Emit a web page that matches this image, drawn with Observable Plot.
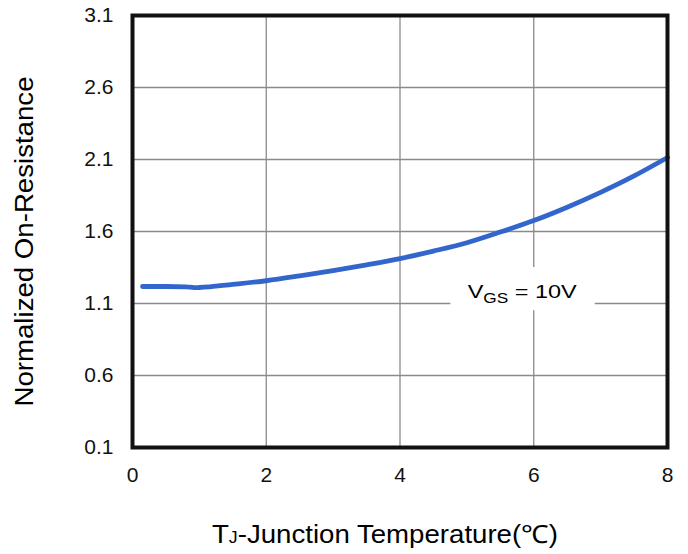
<!DOCTYPE html>
<html>
<head>
<meta charset="utf-8">
<script src="https://cdn.jsdelivr.net/npm/d3@7"></script>
<script src="https://cdn.jsdelivr.net/npm/@observablehq/plot@0.6"></script>
<style>
  html, body { margin: 0; padding: 0; background: #fff; }
  svg { display: block; }
</style>
</head>
<body>
<div id="chart"></div>
<script>
// Junction temperature (x) and normalized on-resistance (y)
const temperature = [0.15, 0.5, 0.8, 0.92, 1.0, 1.5, 2.0, 2.5, 3.0, 3.5, 4.0, 4.5, 5.0, 5.5, 6.0, 6.5, 7.0, 7.5, 8.0];
const resistance  = [1.218, 1.218, 1.216, 1.210, 1.211, 1.233, 1.258, 1.292, 1.329, 1.369, 1.412, 1.464, 1.522, 1.596, 1.676, 1.769, 1.872, 1.986, 2.114];

const xTicks = [0, 2, 4, 6, 8];
const yTicks = [0.1, 0.6, 1.1, 1.6, 2.1, 2.6, 3.1];
const xGrid = [2, 4, 6];
const yGrid = [0.6, 1.1, 1.6, 2.1, 2.6];

const xLabelMain = "T";
const xLabelSub = "J";
const xLabelRest = "-Junction Temperature(℃)";
const yLabel = "Normalized On-Resistance";
const noteMain = "V";
const noteSub = "GS";
const noteRest = " = 10V";
const notePos = {x: 5.02, y: 1.137};
const noteBox = [{x1: 4.76, x2: 6.92, y1: 1.05, y2: 1.35}];

const data = temperature.map((t, i) => ({t, r: resistance[i]}));
const font = "'Liberation Sans', Arial, sans-serif";

const chart = Plot.plot({
  width: 688,
  height: 554,
  marginLeft: 132,
  marginRight: 21,
  marginTop: 15,
  marginBottom: 107,
  style: {fontFamily: font, fontSize: "21px", color: "#000", background: "#fff", overflow: "visible"},
  x: {domain: [0, 8], axis: null},
  y: {domain: [0.1, 3.1], axis: null},
  marks: [
    Plot.ruleX(xGrid, {stroke: "#8a8a8a", strokeWidth: 1.3}),
    Plot.ruleY(yGrid, {stroke: "#8a8a8a", strokeWidth: 1.3}),
    Plot.rect(noteBox, {x1: "x1", x2: "x2", y1: "y1", y2: "y2", fill: "#fff"}),
    Plot.line(data, {x: "t", y: "r", stroke: "#3366cc", strokeWidth: 4.8, curve: "monotone-x"}),
    Plot.frame({stroke: "#111", strokeWidth: 4}),
    Plot.text(xTicks, {x: d => d, y: () => 0.1, text: d => String(d), lineAnchor: "top", dy: 20, fontSize: 21, fontFamily: font, fill: "#111"}),
    Plot.text(yTicks, {x: () => 0, y: d => d, text: d => d.toFixed(1), textAnchor: "end", dx: -19, fontSize: 21, fontFamily: font, fill: "#111"})
  ]
});

document.getElementById("chart").appendChild(chart);

const sx = chart.scale("x");
const sy = chart.scale("y");
const svg = d3.select(chart);

// VGS note
const note = svg.append("text")
  .attr("x", sx.apply(notePos.x))
  .attr("y", sy.apply(notePos.y))
  .attr("text-anchor", "start")
  .attr("font-family", font)
  .attr("font-size", 19)
  .attr("fill", "#000")
  .attr("textLength", 109)
  .attr("lengthAdjust", "spacingAndGlyphs");
note.append("tspan").text(noteMain);
note.append("tspan").attr("dy", 5).attr("font-size", 14).text(noteSub);
note.append("tspan").attr("dy", -5).text(noteRest);

// X axis title
const xt = svg.append("text")
  .attr("x", 212)
  .attr("y", 543)
  .attr("text-anchor", "start")
  .attr("font-family", font)
  .attr("font-size", 25)
  .attr("fill", "#000")
  .attr("textLength", 346)
  .attr("lengthAdjust", "spacingAndGlyphs");
xt.append("tspan").text(xLabelMain);
xt.append("tspan").attr("font-size", 16).text(xLabelSub);
xt.append("tspan").text(xLabelRest);

// Y axis title
svg.append("text")
  .attr("transform", "translate(33,241.5) rotate(-90)")
  .attr("text-anchor", "middle")
  .attr("font-family", font)
  .attr("font-size", 25)
  .attr("fill", "#000")
  .attr("textLength", 330)
  .attr("lengthAdjust", "spacingAndGlyphs")
  .text(yLabel);
</script>
</body>
</html>
